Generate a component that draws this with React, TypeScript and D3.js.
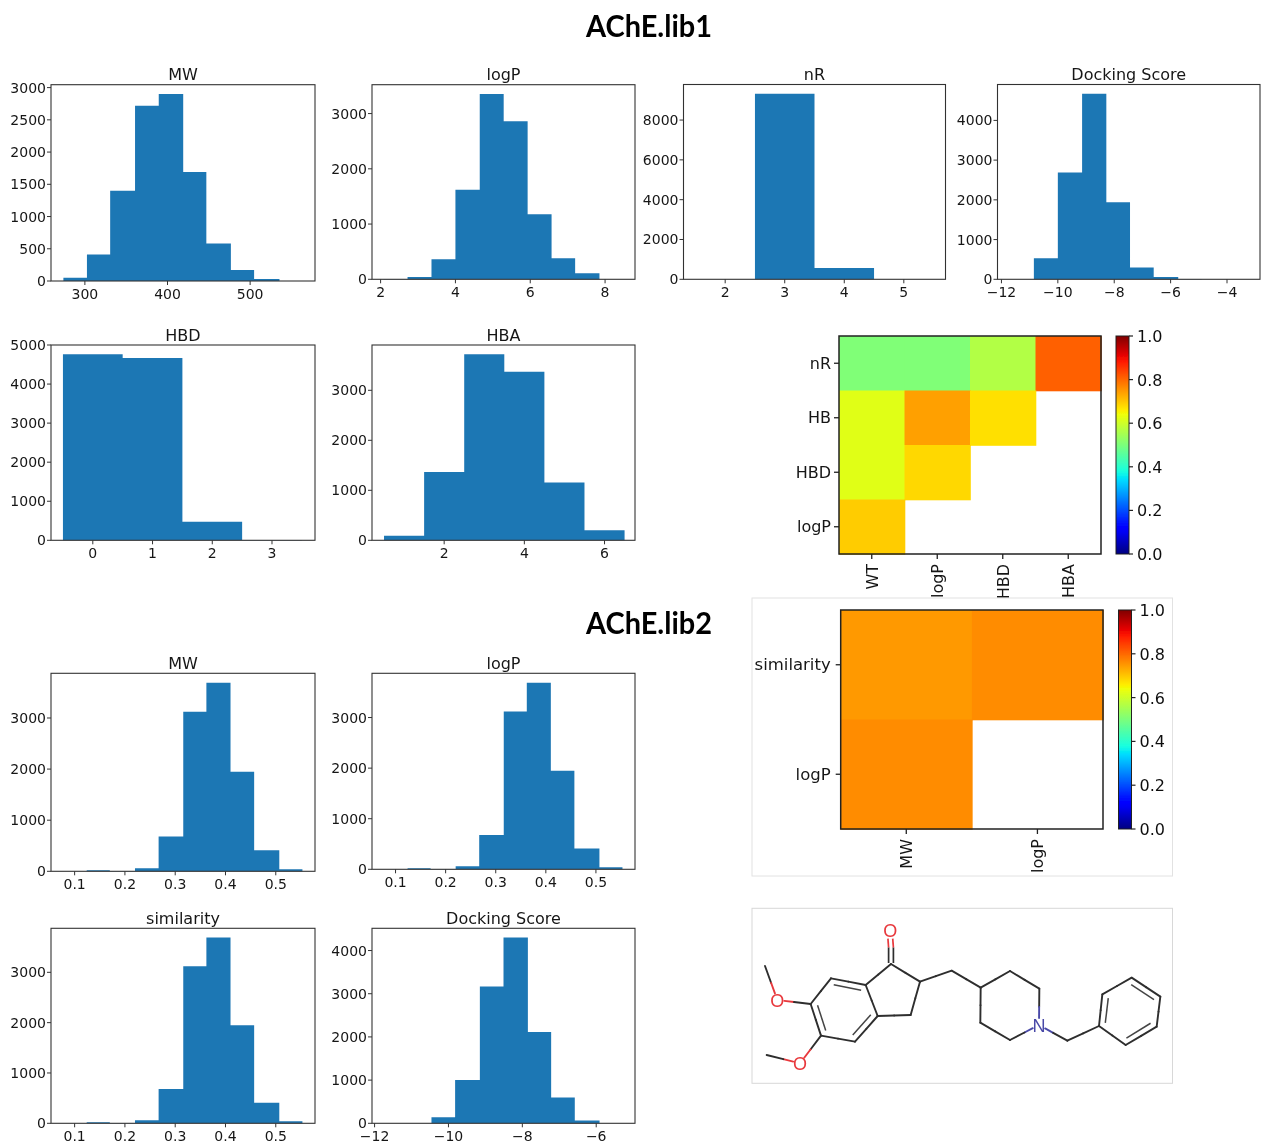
import React from "react";
import * as d3 from "d3";

// ---- histogram values ----
const mwLib1Edges = [274, 302.5, 330.6, 360.7, 389.4, 419, 447, 476.7, 504.8, 535.5];
const mwLib1Counts = [50, 410, 1400, 2720, 2900, 1690, 580, 170, 30];
const logpLib1Edges = [2.08, 2.72, 3.36, 4.0, 4.65, 5.29, 5.93, 6.57, 7.2, 7.85];
const logpLib1Counts = [5, 42, 362, 1623, 3355, 2860, 1177, 380, 110];
const nrEdges = [1.5, 2.5, 3.5, 4.5, 5.5];
const nrCounts = [8, 9320, 570, 8];
const dockLib1Edges = [-11.7, -10.85, -10.0, -9.14, -8.28, -7.44, -6.6, -5.73, -4.9, -4.05, -3.2];
const dockLib1Counts = [4, 528, 2690, 4670, 1937, 300, 60, 6, 3, 2];
const hbdEdges = [-0.5, 0.5, 1.5, 2.5, 3.5];
const hbdCounts = [4762, 4665, 478, 6];
const hbaEdges = [0.5, 1.5, 2.5, 3.5, 4.5, 5.5, 6.5];
const hbaCounts = [93, 1367, 3720, 3370, 1155, 199];
const simEdges = [0.078, 0.124, 0.17, 0.22, 0.267, 0.316, 0.362, 0.41, 0.457, 0.507, 0.553];
const simCounts = [2, 20, 5, 60, 680, 3120, 3690, 1950, 410, 40];
const dockLib2Edges = [-11.75, -11.1, -10.46, -9.82, -9.15, -8.51, -7.85, -7.22, -6.58, -5.91];
const dockLib2Counts = [2, 3, 140, 1000, 3165, 4300, 2115, 600, 62];

// ---- tick labels ----
const mwTicks = [300, 400, 500];
const count500Ticks = [0, 500, 1000, 1500, 2000, 2500, 3000];
const count1000to3000 = [0, 1000, 2000, 3000];
const count1000to4000 = [0, 1000, 2000, 3000, 4000];
const count1000to5000 = [0, 1000, 2000, 3000, 4000, 5000];
const count2000to8000 = [0, 2000, 4000, 6000, 8000];
const simTicks = [0.1, 0.2, 0.3, 0.4, 0.5];

// ---- heatmaps ----
const heat1Rows = ["nR", "HB", "HBD", "logP"];
const heat1Cols = ["WT", "logP", "HBD", "HBA"];
const heat1Values = [
  [0.505, 0.505, 0.567, 0.808],
  [0.622, 0.741, 0.673, null],
  [0.622, 0.681, null, null],
  [0.694, null, null, null],
];
const heat2Rows = ["similarity", "logP"];
const heat2Cols = ["MW", "logP"];
const heat2Values = [
  [0.748, 0.762],
  [0.762, null],
];
const colorbarTicks = [0, 0.2, 0.4, 0.6, 0.8, 1];

// ---- molecule drawing, in its own little coordinate system ----
const atoms: Record<string, [number, number]> = {
  me1: [60, 198], o1: [97, 300], c6: [197, 312], c7: [258, 235], c7a: [362, 255],
  c3a: [398, 348], c4: [330, 425], c5: [228, 407], o2: [165, 490], me2: [65, 465],
  c1: [438, 192], c2: [525, 245], c3: [497, 345], o3: [436, 92], ch2: [620, 212],
  p4: [707, 263], p3: [795, 213], p2: [883, 266], n: [882, 375], p6: [795, 420], p5: [706, 368],
  bn: [967, 422], ph1: [1062, 378], ph2: [1072, 283], ph3: [1160, 233], ph4: [1246, 290],
  ph5: [1235, 380], ph6: [1142, 435],
};
const bonds = [
  ["me1", "o1"], ["o1", "c6"], ["c6", "c7"], ["c7", "c7a"], ["c7a", "c3a"], ["c3a", "c4"],
  ["c4", "c5"], ["c5", "c6"], ["c5", "o2"], ["o2", "me2"], ["c7a", "c1"], ["c1", "c2"],
  ["c2", "c3"], ["c3", "c3a"], ["c2", "ch2"], ["ch2", "p4"], ["p4", "p3"], ["p3", "p2"],
  ["p2", "n"], ["n", "p6"], ["p6", "p5"], ["p5", "p4"], ["n", "bn"], ["bn", "ph1"],
  ["ph1", "ph2"], ["ph2", "ph3"], ["ph3", "ph4"], ["ph4", "ph5"], ["ph5", "ph6"], ["ph6", "ph1"],
];
// inner line of the aromatic bonds: bond + the ring centre it leans to
const innerBonds: [string, string, number, number][] = [
  ["c7", "c7a", 298, 330], ["c3a", "c4", 298, 330], ["c5", "c6", 298, 330],
  ["ph1", "ph2", 1153, 334], ["ph3", "ph4", 1153, 334], ["ph5", "ph6", 1153, 334],
];
const heteroColor: Record<string, string> = { o1: "#e8383c", o2: "#e8383c", o3: "#e8383c", n: "#4a4aa8" };
const heteroLabel: Record<string, string> = { o1: "O", o2: "O", o3: "O", n: "N" };

const BLUE = "#1f77b4";
const INK = "#161616";
const FONT = "'DejaVu Sans', sans-serif";

// matplotlib's jet as a piecewise function of its segment data
const jetR = d3.scaleLinear([0, 0.35, 0.66, 0.89, 1], [0, 0, 1, 1, 0.5]);
const jetG = d3.scaleLinear([0, 0.125, 0.375, 0.64, 0.91, 1], [0, 0, 1, 1, 0, 0]);
const jetB = d3.scaleLinear([0, 0.11, 0.34, 0.65, 1], [0.5, 1, 1, 0, 0]);
const jet = (v: number) =>
  d3.rgb(jetR(v) * 255, jetG(v) * 255, jetB(v) * 255).formatHex();

const fmtTick = (t: number) =>
  (Number.isInteger(t) ? String(t) : t.toFixed(1)).replace("-", "\u2212");

function Hist({ title, box, edges, counts, xDomain, xTicks, yTicks }: any) {
  const [left, right, top, bottom] = box;
  const x = d3.scaleLinear(xDomain, [left, right]);
  const y = d3.scaleLinear([0, d3.max(counts as number[])! * 1.05], [bottom, top]);
  // one stepped shape, so neighbouring bars have no seam between them
  const area = d3
    .area<number>()
    .x((e) => x(e))
    .y0(bottom)
    .y1((_, i) => y(counts[Math.min(i, counts.length - 1)]))
    .curve(d3.curveStepAfter);
  return (
    <g>
      <text x={(left + right) / 2} y={top - 4.5} fontSize={16} textAnchor="middle" fill={INK}>
        {title}
      </text>
      <path d={area(edges) ?? ""} fill={BLUE} />
      <rect x={left} y={top} width={right - left} height={bottom - top} fill="none" stroke="#333" strokeWidth={1.1} />
      {xTicks.map((t: number) => (
        <g key={t}>
          <line x1={x(t)} x2={x(t)} y1={bottom} y2={bottom + 4} stroke="#333" />
          <text x={x(t)} y={bottom + 17.5} fontSize={14} textAnchor="middle" fill={INK}>
            {fmtTick(t)}
          </text>
        </g>
      ))}
      {yTicks.map((t: number) => (
        <g key={t}>
          <line x1={left - 4} x2={left} y1={y(t)} y2={y(t)} stroke="#333" />
          <text x={left - 5} y={y(t) + 5} fontSize={14} textAnchor="end" fill={INK}>
            {t}
          </text>
        </g>
      ))}
    </g>
  );
}

function Heat({ box, rows, cols, values, barX, labelGap = 8, labelSize = 16 }: any) {
  const [left, right, top, bottom] = box;
  const x = d3.scaleBand<string>(d3.range(cols.length).map(String), [left, right]);
  const y = d3.scaleBand<string>(d3.range(rows.length).map(String), [top, bottom]);
  const bar = d3.scaleLinear([0, 1], [bottom, top]);
  const gradId = `jet-${Math.round(top)}`;
  const stops = d3.range(0, 1.001, 0.02);
  return (
    <g>
      <defs>
        <linearGradient id={gradId} x1="0" x2="0" y1="1" y2="0">
          {stops.map((s) => (
            <stop key={s} offset={s} stopColor={jet(s)} />
          ))}
        </linearGradient>
      </defs>
      {values.map((row: (number | null)[], r: number) =>
        row.map((v, c) =>
          v == null ? null : (
            <rect
              key={`${r}-${c}`}
              x={x(String(c))}
              y={y(String(r))}
              width={x.bandwidth() + 0.8}
              height={y.bandwidth() + 0.8}
              fill={jet(v)}
            />
          )
        )
      )}
      <rect x={left} y={top} width={right - left} height={bottom - top} fill="none" stroke="#222" strokeWidth={1.5} />
      {rows.map((name: string, r: number) => {
        const cy = y(String(r))! + y.bandwidth() / 2;
        return (
          <g key={name}>
            <line x1={left - 5} x2={left} y1={cy} y2={cy} stroke="#222" strokeWidth={1.3} />
            <text x={left - labelGap} y={cy + 5.5} fontSize={labelSize} textAnchor="end" fill={INK}>
              {name}
            </text>
          </g>
        );
      })}
      {cols.map((name: string, c: number) => {
        const cx = x(String(c))! + x.bandwidth() / 2;
        return (
          <g key={name}>
            <line x1={cx} x2={cx} y1={bottom} y2={bottom + 5} stroke="#222" strokeWidth={1.3} />
            <text
              transform={`translate(${cx + 6},${bottom + 10}) rotate(-90)`}
              fontSize={16}
              textAnchor="end"
              fill={INK}
            >
              {name}
            </text>
          </g>
        );
      })}
      <rect x={barX} y={top} width={13} height={bottom - top} fill={`url(#${gradId})`} stroke="#222" strokeWidth={1} />
      {colorbarTicks.map((t) => (
        <g key={t}>
          <line x1={barX + 13} x2={barX + 17} y1={bar(t)} y2={bar(t)} stroke="#222" strokeWidth={1.2} />
          <text x={barX + 21} y={bar(t) + 6} fontSize={16} fill="#111">
            {t.toFixed(1)}
          </text>
        </g>
      ))}
    </g>
  );
}

function Molecule() {
  const mx = d3.scaleLinear([0, 3], [745, 746]);
  const my = d3.scaleLinear([0, 3], [900, 901]);
  const pt = (k: string): [number, number] => [mx(atoms[k][0]), my(atoms[k][1])];
  const segs: React.ReactNode[] = [];
  bonds.forEach(([a, b]) => {
    const [ax, ay] = pt(a);
    const [bx, by] = pt(b);
    const len = Math.hypot(bx - ax, by - ay);
    const gap = 7 / len;
    const ta = heteroLabel[a] ? gap : 0;
    const tb = heteroLabel[b] ? gap : 0;
    const at = (t: number): [number, number] => [ax + (bx - ax) * t, ay + (by - ay) * t];
    const [p, m, q] = [at(ta), at(0.5), at(1 - tb)];
    segs.push(
      <line key={a + b + "1"} x1={p[0]} y1={p[1]} x2={m[0]} y2={m[1]} stroke={heteroColor[a] ?? "#2e2e2e"} strokeWidth={1.9} strokeLinecap="round" />,
      <line key={a + b + "2"} x1={m[0]} y1={m[1]} x2={q[0]} y2={q[1]} stroke={heteroColor[b] ?? "#2e2e2e"} strokeWidth={1.9} strokeLinecap="round" />
    );
  });
  innerBonds.forEach(([a, b, cxRaw, cyRaw]) => {
    const [ax, ay] = pt(a);
    const [bx, by] = pt(b);
    const cx = mx(cxRaw);
    const cy = my(cyRaw);
    const shrink = (px: number, py: number) => {
      const d = Math.hypot(cx - px, cy - py);
      return [px + ((cx - px) / d) * 7, py + ((cy - py) / d) * 7];
    };
    const [p, q] = [shrink(ax, ay), shrink(bx, by)];
    segs.push(<line key={a + b + "i"} x1={p[0]} y1={p[1]} x2={q[0]} y2={q[1]} stroke="#444" strokeWidth={1.5} />);
  });
  // carbonyl double bond
  const [c1x, c1y] = pt("c1");
  const [o3x, o3y] = pt("o3");
  const midY = (c1y + o3y) / 2;
  [-2.4, 2.4].forEach((dx) => {
    segs.push(
      <line key={`co1${dx}`} x1={c1x + dx} y1={c1y - 1} x2={c1x + dx} y2={midY} stroke="#2e2e2e" strokeWidth={1.7} />,
      <line key={`co2${dx}`} x1={c1x + dx} y1={midY} x2={o3x + dx} y2={o3y + 8} stroke={heteroColor.o3} strokeWidth={1.7} />
    );
  });
  return (
    <g>
      {segs}
      {Object.keys(heteroLabel).map((k) => {
        const [ax, ay] = pt(k);
        return (
          <text key={k} x={ax} y={ay + 6.5} fontSize={18} textAnchor="middle" fill={heteroColor[k]} fontFamily="'Liberation Sans', sans-serif">
            {heteroLabel[k]}
          </text>
        );
      })}
    </g>
  );
}

export default function App() {
  return (
    <svg
      width={1261}
      height={1142}
      style={{ position: "absolute", left: 0, top: 0, display: "block", background: "#fff" }}
      fontFamily={FONT}
    >
      <defs>
        <filter id="soft" x="0" y="0" width="100%" height="100%">
          <feGaussianBlur stdDeviation={0.55} />
        </filter>
      </defs>
      <g filter="url(#soft)">
        <rect width={1261} height={1142} fill="#fff" />
        <text x={649} y={37} fontSize={30} fontWeight={700} textAnchor="middle" fill="#000" fontFamily="Lato, sans-serif" textLength={126} lengthAdjust="spacingAndGlyphs">
          AChE.lib1
        </text>
        <text x={649} y={634} fontSize={30} fontWeight={700} textAnchor="middle" fill="#000" fontFamily="Lato, sans-serif" textLength={126} lengthAdjust="spacingAndGlyphs">
          AChE.lib2
        </text>

        <Hist title="MW" box={[51, 315, 84.7, 281]} edges={mwLib1Edges} counts={mwLib1Counts} xDomain={[259, 578.5]} xTicks={mwTicks} yTicks={count500Ticks} />
        <Hist title="logP" box={[372, 635, 84.7, 279.3]} edges={logpLib1Edges} counts={logpLib1Counts} xDomain={[1.77, 8.8]} xTicks={[2, 4, 6, 8]} yTicks={count1000to3000} />
        <Hist title="nR" box={[683.5, 945.5, 84.5, 279.3]} edges={nrEdges} counts={nrCounts} xDomain={[1.3, 5.7]} xTicks={[2, 3, 4, 5]} yTicks={count2000to8000} />
        <Hist title="Docking Score" box={[997.5, 1260, 84.5, 279.3]} edges={dockLib1Edges} counts={dockLib1Counts} xDomain={[-12.14, -2.83]} xTicks={[-12, -10, -8, -6, -4]} yTicks={count1000to4000} />

        <Hist title="HBD" box={[51, 315, 345, 540.3]} edges={hbdEdges} counts={hbdCounts} xDomain={[-0.7, 3.72]} xTicks={[0, 1, 2, 3]} yTicks={count1000to5000} />
        <Hist title="HBA" box={[372, 635, 345, 540.3]} edges={hbaEdges} counts={hbaCounts} xDomain={[0.2, 6.76]} xTicks={[2, 4, 6]} yTicks={count1000to3000} />

        <Hist title="MW" box={[51, 315, 673.3, 871.3]} edges={simEdges} counts={simCounts} xDomain={[0.053, 0.578]} xTicks={simTicks} yTicks={count1000to3000} />
        <Hist title="logP" box={[372, 635, 673.3, 869.3]} edges={simEdges} counts={simCounts} xDomain={[0.053, 0.578]} xTicks={simTicks} yTicks={count1000to3000} />
        <Hist title="similarity" box={[51, 315, 928.3, 1123.3]} edges={simEdges} counts={simCounts} xDomain={[0.053, 0.578]} xTicks={simTicks} yTicks={count1000to3000} />
        <Hist title="Docking Score" box={[372, 635, 928.3, 1123.3]} edges={dockLib2Edges} counts={dockLib2Counts} xDomain={[-12.07, -4.95]} xTicks={[-12, -10, -8, -6]} yTicks={count1000to4000} />

        <Heat box={[839, 1101, 336, 554]} rows={heat1Rows} cols={heat1Cols} values={heat1Values} barX={1116} />

        {/* the pasted panel covers the ends of the labels above it */}
        <rect x={752} y={598} width={420.5} height={278} fill="#fff" stroke="#e2e2e2" />
        <Heat box={[840.7, 1103, 610, 829]} rows={heat2Rows} cols={heat2Cols} values={heat2Values} barX={1118.5} labelGap={10} labelSize={16.5} />

        <rect x={752} y={908.3} width={420.5} height={175} fill="#fff" stroke="#d8d8d8" />
        <Molecule />
      </g>
    </svg>
  );
}
